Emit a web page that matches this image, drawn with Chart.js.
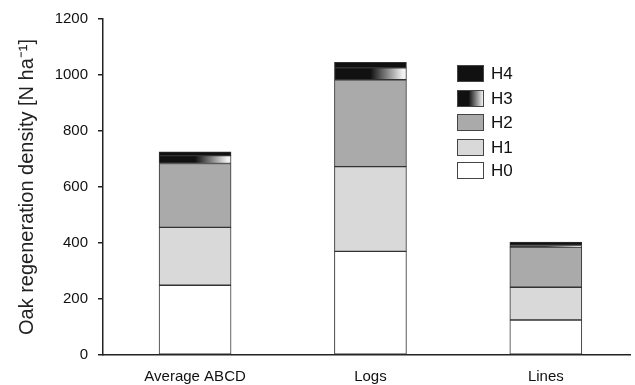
<!DOCTYPE html>
<html><head><meta charset="utf-8">
<script src="https://cdn.jsdelivr.net/npm/chart.js@4/dist/chart.umd.min.js"></script>
<style>html,body{margin:0;padding:0;background:#fff}#wrap{width:635px;height:385px}</style>
</head><body><div id="wrap"><canvas id="c"></canvas></div>
<script>
const categories = ['Average ABCD', 'Logs', 'Lines'];
const H0 = [249, 370, 125];
const H1 = [207, 303, 117];
const H2 = [228, 310, 143];
const H3 = [28, 43, 6];
const H4 = [14, 19, 12];
const yTicks = [0, 200, 400, 600, 800, 1000, 1200];
const seriesNames = ['H0', 'H1', 'H2', 'H3', 'H4'];

const BAR_W = 72;
function h3Fill(ctx) {
  const chart = ctx.chart;
  const xs = chart.scales && chart.scales.x;
  if (!xs || ctx.dataIndex === undefined) return '#111';
  const cx = xs.getPixelForValue(ctx.dataIndex);
  if (!isFinite(cx)) return '#111';
  const g = chart.ctx.createLinearGradient(cx - BAR_W / 2, 0, cx + BAR_W / 2, 0);
  g.addColorStop(0, '#111');
  g.addColorStop(0.5, '#111');
  g.addColorStop(0.95, '#f2f2f2');
  g.addColorStop(1, '#f2f2f2');
  return g;
}
function legendH3(c, x, y, w, h) {
  const g = c.createLinearGradient(x, 0, x + w, 0);
  g.addColorStop(0, '#111'); g.addColorStop(0.45, '#111'); g.addColorStop(1, '#f2f2f2');
  return g;
}
const fills = ['#ffffff', '#d9d9d9', '#aaaaaa', null, '#111111'];
const values = [H0, H1, H2, H3, H4];

const legendPlugin = {
  id: 'customLegend',
  afterDraw(chart) {
    const c = chart.ctx;
    const items = [4, 3, 2, 1, 0];
    const ys = [65, 90, 114, 139, 162];
    c.save();
    c.font = '17px "Liberation Sans", Arial, sans-serif';
    c.textBaseline = 'middle';
    items.forEach((si, k) => {
      const x = 457, y = ys[k], w = 26, h = 16;
      c.fillStyle = si === 3 ? legendH3(c, x, y, w, h) : fills[si];
      c.fillRect(x, y, w, h);
      c.strokeStyle = '#444';
      c.lineWidth = 1;
      c.strokeRect(x + 0.5, y + 0.5, w, h);
      c.fillStyle = '#111';
      c.fillText(seriesNames[si], 491, y + h / 2 + 1);
    });
    c.restore();
  }
};

new Chart(document.getElementById('c'), {
  type: 'bar',
  data: {
    datasets: seriesNames.map((n, i) => ({
      label: n,
      data: values[i].map((v, j) => ({ x: j, y: v })),
      backgroundColor: i === 3 ? h3Fill : fills[i],
      borderColor: '#333',
      borderWidth: 1,
      borderSkipped: false,
      barThickness: BAR_W
    }))
  },
  options: {
    responsive: true,
    maintainAspectRatio: false,
    animation: false,
    layout: { padding: { top: 18, right: 5, left: 0, bottom: 0 } },
    plugins: { legend: { display: false }, tooltip: { enabled: false } },
    scales: {
      x: {
        type: 'linear',
        stacked: true,
        offset: false,
        min: -0.525, max: 2.48,
        afterBuildTicks(s) { s.ticks = categories.map((c, i) => ({ value: i })); },
        grid: { display: false },
        border: { display: true, color: '#222', width: 1.5 },
        ticks: { color: '#111', font: { size: 15, family: '"Liberation Sans", Arial, sans-serif' }, padding: 5, maxRotation: 0, autoSkip: false, callback: v => categories[v] },
        afterFit(s) { s.height = 30; }
      },
      y: {
        stacked: true,
        min: 0, max: 1200,
        afterBuildTicks(s) { s.ticks = yTicks.map(v => ({ value: v })); },
        grid: { display: true, drawOnChartArea: false, drawTicks: true, tickLength: 5, color: '#222', lineWidth: 1.5 },
        border: { display: true, color: '#222', width: 1.5 },
        ticks: { color: '#111', font: { size: 15, family: '"Liberation Sans", Arial, sans-serif' }, padding: 10, callback: v => String(v) },
        title: { display: true, text: 'Oak regeneration density [N ha\u207B\u00B9]', color: '#222', font: { size: 20, family: '"Liberation Sans", Arial, sans-serif' }, padding: { top: 15, bottom: 8 } },
        afterFit(s) { s.width = 103; }
      }
    }
  },
  plugins: [legendPlugin]
});
</script></body></html>
